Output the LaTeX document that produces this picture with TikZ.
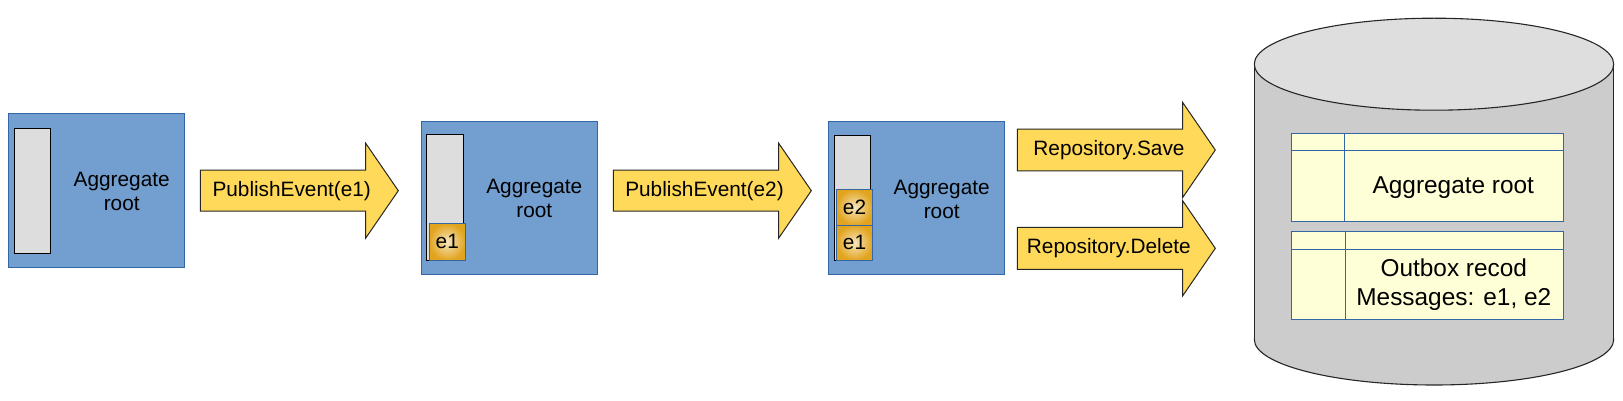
\documentclass[tikz,border=0pt]{standalone}
\usepackage{fontspec}
\setmainfont{Liberation Sans}
\definecolor{boxblue}{HTML}{729FCF}
\definecolor{boxedge}{HTML}{3465A4}
\definecolor{bargray}{HTML}{DDDDDD}
\definecolor{arrowyel}{HTML}{FFD95A}
\definecolor{evin}{HTML}{F6E6BE}
\definecolor{evout}{HTML}{E2A41E}
\definecolor{tabfill}{HTML}{FFFFD7}
\definecolor{cylside}{HTML}{CCCCCC}
\definecolor{cyltop}{HTML}{DEDEDE}
\tikzset{
  aggbox/.style={fill=boxblue, draw=boxedge, line width=1pt},
  stackbar/.style={fill=bargray, draw=black, line width=1pt},
  evbox/.style={inner color=evin, outer color=evout, draw=boxedge, line width=0.8pt},
  blockarrow/.style={fill=arrowyel, draw=black!85, line width=1pt, line join=miter},
  tabbox/.style={fill=tabfill, draw=boxedge, line width=1pt},
  tabline/.style={draw=boxedge, line width=1pt},
  cylstyle/.style={draw=black!85, line width=1.1pt},
  lbl/.style={inner sep=0pt, align=center, font=\fontsize{20.8}{24}\selectfont},
  tablbl/.style={inner sep=0pt, align=center, font=\fontsize{24.4}{28.3}\selectfont},
}
\newcommand{\blkarrow}[6]{%
  \draw[blockarrow] (#1,#4-#5) -- (#2,#4-#5) -- (#2,#4-#6) -- (#3,#4) -- (#2,#4+#6) -- (#2,#4+#5) -- (#1,#4+#5) -- cycle;}
\begin{document}
\begin{tikzpicture}[x=1pt,y=-1pt]
\useasboundingbox (0,0) rectangle (1623,401);

% Aggregate 1
\draw[aggbox] (8.3,113.3) rectangle (184.3,267.3);
\draw[stackbar] (14.3,128.3) rectangle (50.3,253.3);
\node[lbl] (agg1) at (121.7,191.3) {Aggregate\\root};

% Arrow 1
\blkarrow{200.3}{365.7}{398.3}{190.7}{20.5}{47.4}
\node[lbl] (pub1) at (291.7,190.7) {PublishEvent(e1)};

% Aggregate 2
\draw[aggbox] (421.3,121.3) rectangle (597.3,274);
\draw[stackbar] (426.3,135) rectangle (463.3,260.3);
\shade[evbox] (429.3,223.3) rectangle (465.3,260.3);
\node[lbl] (e1a) at (447.3,241.8) {e1};
\node[lbl] (agg2) at (534.3,198.3) {Aggregate\\root};

% Arrow 2
\blkarrow{613.3}{778.7}{811.3}{190.7}{20.5}{47.4}
\node[lbl] (pub2) at (704.5,190.7) {PublishEvent(e2)};

% Aggregate 3
\draw[aggbox] (828.3,121.7) rectangle (1004.3,274.3);
\draw[stackbar] (834.3,135.3) rectangle (870.7,260);
\shade[evbox] (836.7,189.3) rectangle (872.3,225);
\shade[evbox] (836.7,225) rectangle (872.3,260.3);
\node[lbl] (e2b) at (854.5,207.2) {e2};
\node[lbl] (e1b) at (854.5,242.6) {e1};
\node[lbl] (agg3) at (941.7,199) {Aggregate\\root};

% Repository arrows
\blkarrow{1017.3}{1182.7}{1215.3}{150}{20.8}{47.5}
\node[lbl] (save) at (1109,150.5) {Repository.Save};
\blkarrow{1017.3}{1182.7}{1215.3}{248.3}{21}{47.5}
\node[lbl] (del) at (1108.8,248.3) {Repository.Delete};

% Database cylinder
\draw[cylstyle, fill=cylside] (1434,339.5) ellipse [x radius=179.7, y radius=45.5];
\fill[cylside] (1254.3,64.2) rectangle (1613.7,339.5);
\draw[cylstyle] (1254.3,64.2) -- (1254.3,339.5);
\draw[cylstyle] (1613.7,64.2) -- (1613.7,339.5);
\draw[cylstyle, fill=cyltop] (1434,64.2) ellipse [x radius=179.7, y radius=46];

% Table 1
\draw[tabbox] (1291.7,133.7) rectangle (1563.3,221);
\draw[tabline] (1291.7,150.3) -- (1563.3,150.3);
\draw[tabline] (1344.3,133.7) -- (1344.3,221);
\node[tablbl] (tagg) at (1453.3,187.3) {Aggregate root};

% Table 2
\draw[tabbox] (1291.7,231.3) rectangle (1563.3,319);
\draw[tabline] (1291.7,249.3) -- (1563.3,249.3);
\draw[tabline] (1345.7,231.3) -- (1345.7,319);
\node[tablbl] (tout) at (1453.8,284.8) {Outbox recod\\Messages: e1, e2};
\end{tikzpicture}
\end{document}
